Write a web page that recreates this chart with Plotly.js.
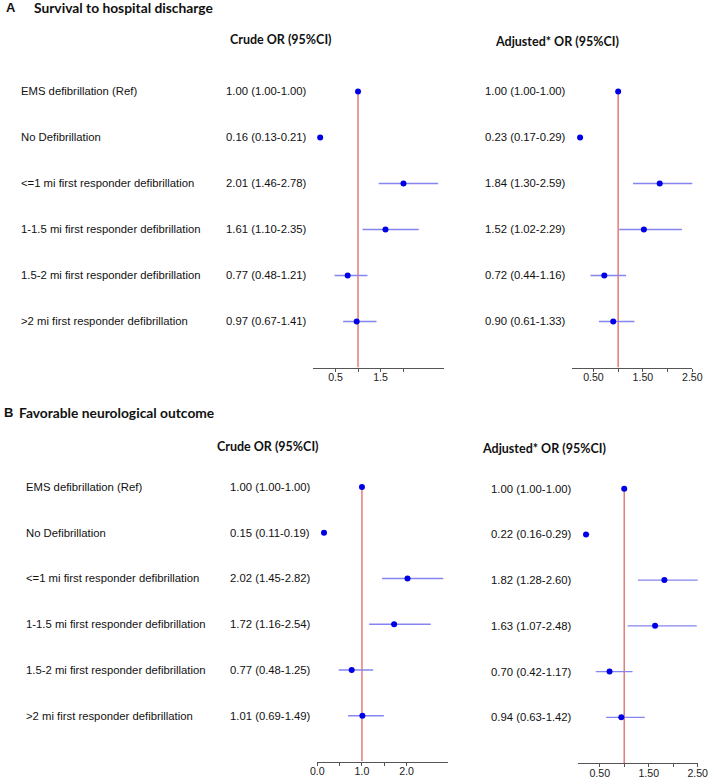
<!DOCTYPE html>
<html><head><meta charset="utf-8">
<script src="https://cdn.plot.ly/plotly-3.0.1.min.js"></script>
<style>html,body{margin:0;padding:0;background:#fff}</style>
</head><body><div id="chart" style="width:709px;height:778px"></div>
<script>
const categories = ["EMS defibrillation (Ref)", "No Defibrillation", "<=1 mi first responder defibrillation", "1-1.5 mi first responder defibrillation", "1.5-2 mi first responder defibrillation", ">2 mi first responder defibrillation"];
const survCrudeOR = [1.00, 0.16, 2.01, 1.61, 0.77, 0.97];
const survCrudeLo = [1.00, 0.13, 1.46, 1.10, 0.48, 0.67];
const survCrudeHi = [1.00, 0.21, 2.78, 2.35, 1.21, 1.41];
const survAdjOR = [1.00, 0.23, 1.84, 1.52, 0.72, 0.90];
const survAdjLo = [1.00, 0.17, 1.30, 1.02, 0.44, 0.61];
const survAdjHi = [1.00, 0.29, 2.59, 2.29, 1.16, 1.33];
const neuroCrudeOR = [1.00, 0.15, 2.02, 1.72, 0.77, 1.01];
const neuroCrudeLo = [1.00, 0.11, 1.45, 1.16, 0.48, 0.69];
const neuroCrudeHi = [1.00, 0.19, 2.82, 2.54, 1.25, 1.49];
const neuroAdjOR = [1.00, 0.22, 1.82, 1.63, 0.70, 0.94];
const neuroAdjLo = [1.00, 0.16, 1.28, 1.07, 0.42, 0.63];
const neuroAdjHi = [1.00, 0.29, 2.60, 2.48, 1.17, 1.42];
const refOR = 1;
const panelTitles = ["Survival to hospital discharge", "Favorable neurological outcome"];
const panelLetters = ["A", "B"];
const colHeaders = ["Crude OR (95%CI)", "Adjusted* OR (95%CI)"];
const survCrudeTickVals = [0.5, 1, 1.5, 2];
const survCrudeTickText = ["0.5", "", "1.5", ""];
const adjTickVals = [0.5, 1, 1.5, 2, 2.5];
const adjTickText = ["0.50", "", "1.50", "", "2.50"];
const neuroCrudeTickVals = [0, 0.5, 1, 1.5, 2];
const neuroCrudeTickText = ["0.0", "", "1.0", "", "2.0"];

const W = 709, H = 778;
const px = v => v / W;
const py = v => 1 - v / H;
const rows = categories.map((_, i) => i);
const fmt = (o, l, h) => o.toFixed(2) + " (" + l.toFixed(2) + "-" + h.toFixed(2) + ")";

const ARIAL = "Liberation Sans, Arial, sans-serif";
const CAL = "Lato, Carlito, Calibri, sans-serif";

function forest(or, lo, hi, xa, ya) {
  return {
    type: "scatter", mode: "markers", x: or, y: rows, xaxis: xa, yaxis: ya,
    cliponaxis: false, hoverinfo: "skip", showlegend: false,
    marker: {color: "#0000e6", size: 6},
    error_x: {type: "data", symmetric: false,
      array: hi.map((h, i) => h - or[i]), arrayminus: lo.map((l, i) => or[i] - l),
      width: 0, thickness: 1.3, color: "#8585f0"}
  };
}
const data = [
  forest(survCrudeOR, survCrudeLo, survCrudeHi, "x", "y"),
  forest(survAdjOR, survAdjLo, survAdjHi, "x2", "y2"),
  forest(neuroCrudeOR, neuroCrudeLo, neuroCrudeHi, "x3", "y3"),
  forest(neuroAdjOR, neuroAdjLo, neuroAdjHi, "x4", "y4")
];

function xax(domain, range, tv, tt, anchor) {
  return {domain: domain, range: range, anchor: anchor, showline: true, linecolor: "#555", linewidth: 1,
    ticks: "outside", ticklen: 3, tickcolor: "#555", tickvals: tv, ticktext: tt,
    ticklabelstandoff: -3,
    showgrid: false, zeroline: false, fixedrange: true,
    tickfont: {family: ARIAL, size: 10.6, color: "#222"}};
}
function yax(top, bottom, anchor) {
  return {domain: [py(bottom), py(top)], range: [6, -0.5], visible: false, anchor: anchor, fixedrange: true};
}

const annotations = [];
function addText(text, x, y, yref, font, xanchor) {
  annotations.push({text: text, x: x, y: y, xref: "paper", yref: yref, xanchor: xanchor || "left",
    yanchor: "middle", showarrow: false, font: font});
}
const rowFont = {family: ARIAL, size: 11.3, color: "#111"};
const hdrFont = {family: CAL, size: 12.5, color: "#111"};
const ttlFont = {family: CAL, size: 13.8, color: "#111"};
const letFont = {family: ARIAL, size: 13, color: "#111"};

// Panel A
addText("<b>" + panelLetters[0] + "</b>", px(4), py(7), "paper", letFont);
addText("<b>" + panelTitles[0] + "</b>", px(32), py(7), "paper", ttlFont);
addText("<b>" + colHeaders[0] + "</b>", px(280.5), py(40), "paper", hdrFont, "center");
addText("<b>" + colHeaders[1] + "</b>", px(557), py(41), "paper", hdrFont, "center");
rows.forEach(i => {
  addText(categories[i], px(19), i, "y", rowFont);
  addText(fmt(survCrudeOR[i], survCrudeLo[i], survCrudeHi[i]), px(224), i, "y", rowFont);
  addText(fmt(survAdjOR[i], survAdjLo[i], survAdjHi[i]), px(482.5), i, "y2", rowFont);
});
// Panel B
addText("<b>" + panelLetters[1] + "</b>", px(2), py(412), "paper", letFont);
addText("<b>" + panelTitles[1] + "</b>", px(17), py(412), "paper", ttlFont);
addText("<b>" + colHeaders[0] + "</b>", px(267.7), py(446), "paper", hdrFont, "center");
addText("<b>" + colHeaders[1] + "</b>", px(544), py(448), "paper", hdrFont, "center");
rows.forEach(i => {
  addText(categories[i], px(23.5), i, "y3", rowFont);
  addText(fmt(neuroCrudeOR[i], neuroCrudeLo[i], neuroCrudeHi[i]), px(228.3), i, "y3", rowFont);
  addText(fmt(neuroAdjOR[i], neuroAdjLo[i], neuroAdjHi[i]), px(488.5), i, "y4", rowFont);
});

const refLine = (xr, yr) => ({type: "line", xref: xr, yref: yr, x0: refOR, x1: refOR, y0: 0, y1: 6,
  layer: "below", line: {color: "#e67a7a", width: 1.5}});

const layout = {
  width: W, height: H, margin: {l: 0, r: 0, t: 0, b: 0},
  paper_bgcolor: "#fff", plot_bgcolor: "rgba(0,0,0,0)", showlegend: false,
  xaxis: xax([px(313), px(444)], [0, 2.91], survCrudeTickVals, survCrudeTickText, "y"),
  xaxis2: xax([px(571.7), px(692.3)], [0.06, 2.5], adjTickVals, adjTickText, "y2"),
  xaxis3: xax([px(317.3), px(447.7)], [0, 2.92], neuroCrudeTickVals, neuroCrudeTickText, "y3"),
  xaxis4: xax([px(577.7), px(697.7)], [0.05, 2.5], adjTickVals, adjTickText, "y4"),
  yaxis: yax(68.5, 367.5, "x"),
  yaxis2: yax(68.5, 367.5, "x2"),
  yaxis3: yax(464.1, 761.5, "x3"),
  yaxis4: yax(465.8, 763.0, "x4"),
  shapes: [refLine("x", "y"), refLine("x2", "y2"), refLine("x3", "y3"), refLine("x4", "y4")],
  annotations: annotations
};
Plotly.newPlot("chart", data, layout, {displayModeBar: false, staticPlot: true});
</script></body></html>
